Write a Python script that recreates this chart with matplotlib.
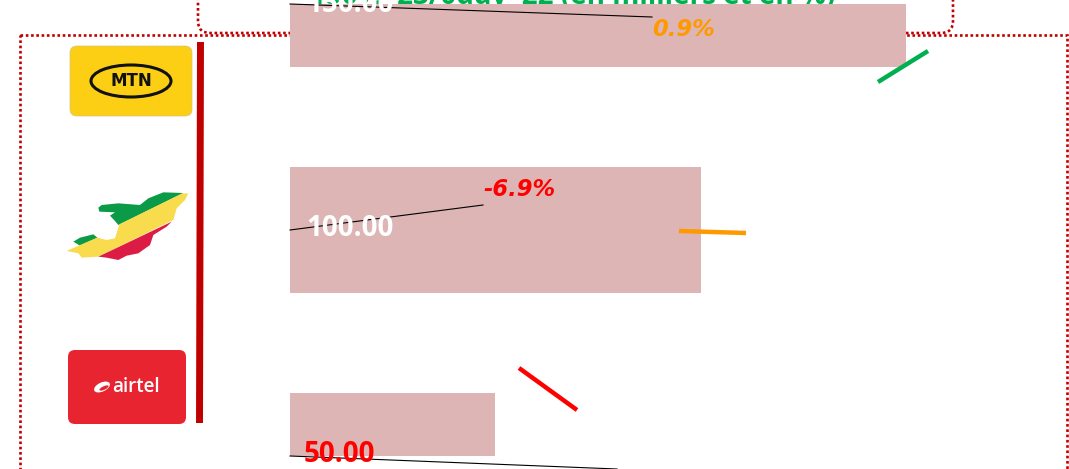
import matplotlib
matplotlib.use('Agg')
import matplotlib.pyplot as plt
from matplotlib.patches import FancyBboxPatch, Ellipse, Polygon, Rectangle

W, H = 1069, 469

# Данные с картинки
operators = ['MTN', 'Congo', 'Airtel']
values = [150, 100, 50]
value_labels = ['150.00', '100.00', '50.00']
changes = ['0.9%', '-6.9%']
title_text = '150%  23/0ddv  22 (en milliers et en %)'

# Раскладка в пикселях картинки
bar_top = [4, 167, 393]
bar_bottom = [67, 293, 456]
bar_left = 290
px_per_unit = 616 / 150
dark_red = '#C00000'

fig = plt.figure(figsize=(W / 100, H / 100), dpi=100)
fig.patch.set_facecolor('white')

# Нижний слой: рамки и заголовок
bg = fig.add_axes([0, 0, 1, 1], zorder=1)
bg.set_xlim(0, W)
bg.set_ylim(H, 0)
bg.axis('off')
bg.add_patch(FancyBboxPatch((198, -40), 755, 73, boxstyle='round,pad=0,rounding_size=12',
                            fill=False, ec=dark_red, lw=1.9, ls=(0, (1, 1))))
bg.add_patch(Rectangle((20, 35), 1047, 470, fill=False, ec=dark_red, lw=1.9, ls=(0, (1, 1))))
bg.text(835, 4, title_text, color='#00B050', fontsize=20, fontweight='bold',
        ha='right', va='baseline', family='Open Sans')

# Столбцы
ax = fig.add_axes([0, 0, 1, 1], zorder=2)
ax.patch.set_alpha(0)
ax.set_xlim(-bar_left / px_per_unit, (W - bar_left) / px_per_unit)
ax.set_ylim(H, 0)
ax.axis('off')
for v, t, b in zip(values, bar_top, bar_bottom):
    ax.barh((t + b) / 2, v, height=b - t, left=0, color='#DDB5B5')

# Верхний слой: подписи, линии, логотипы
top = fig.add_axes([0, 0, 1, 1], zorder=3)
top.patch.set_alpha(0)
top.set_xlim(0, W)
top.set_ylim(H, 0)
top.axis('off')

# Подписи значений
label_pos = [(306, 4, 'white'), (306, 229, 'white'), (304, 455, '#FF0000')]
for txt, (x, y, c) in zip(value_labels, label_pos):
    top.text(x, y, txt, color=c, fontsize=20, fontweight='bold', ha='left', va='center',
             family='Open Sans')

# Проценты
change_pos = [(652, 30, '#FF9900'), (483, 190, '#FF0000')]
for txt, (x, y, c) in zip(changes, change_pos):
    top.text(x, y, txt, color=c, fontsize=16.3, fontweight='bold', style='italic',
             ha='left', va='center')

# Выноски
for xs, ys in [((290, 652), (4, 17)), ((290, 483), (230, 205)), ((290, 617), (456, 469))]:
    top.plot(xs, ys, color='black', lw=0.8)

# Наклонные отметки
for xs, ys, c in [((878, 928), (82, 51), '#00B050'),
                  ((679, 746), (231, 233), '#FF9900'),
                  ((519, 577), (368, 410), '#FF0000')]:
    top.plot(xs, ys, color=c, lw=3.2, solid_capstyle='butt')

# Вертикальная черта
top.plot((200.5, 199.5), (42, 423), color=dark_red, lw=5, solid_capstyle='butt')

# Логотип MTN
top.add_patch(FancyBboxPatch((70, 46), 122, 70, boxstyle='round,pad=0,rounding_size=7',
                             fc='#FCCF14', ec='#D9C27A', lw=0.5))
top.add_patch(Ellipse((131, 81), 80, 32, fill=False, ec='#111111', lw=2.2))
top.text(131, 81.5, 'MTN', color='#111111', fontsize=12, fontweight='bold',
         ha='center', va='center')

# Карта Конго
def flag_pts(pts):
    return [(60 + x / 3, 185 + y / 3) for x, y in pts]

green = [(115, 68), (125, 60), (175, 55), (240, 60), (265, 40), (310, 22), (370, 24), (175, 120),
         (165, 108), (150, 92), (165, 82), (118, 80)]
green2 = [(40, 170), (60, 158), (100, 148), (112, 158), (60, 182)]
yellow = [(20, 198), (60, 180), (112, 158), (140, 165), (165, 160), (178, 118), (365, 26), (385, 25),
          (375, 45), (350, 70), (340, 105), (115, 215), (65, 218), (55, 205)]
red = [(115, 215), (335, 110), (320, 125), (280, 150), (270, 180), (235, 205), (200, 212),
       (175, 225), (140, 218)]
for pts, c in [(green, '#0B9A48'), (green2, '#0B9A48'), (yellow, '#F8DC4E'), (red, '#DC1C44')]:
    top.add_patch(Polygon(flag_pts(pts), closed=True, fc=c, ec='none'))

# Логотип Airtel
top.add_patch(FancyBboxPatch((68, 350), 118, 74, boxstyle='round,pad=0,rounding_size=7',
                             fc='#E92431', ec='none'))
top.add_patch(Ellipse((102, 387), 17, 9, angle=-25, fc='white', ec='none'))
top.add_patch(Ellipse((104, 388), 10, 3.5, angle=-25, fc='#E92431', ec='none'))
top.text(136, 387.5, 'airtel', color='white', fontsize=13.5, fontweight='semibold', ha='center',
         va='center', family='Open Sans')

fig.savefig('out.png', dpi=100)
